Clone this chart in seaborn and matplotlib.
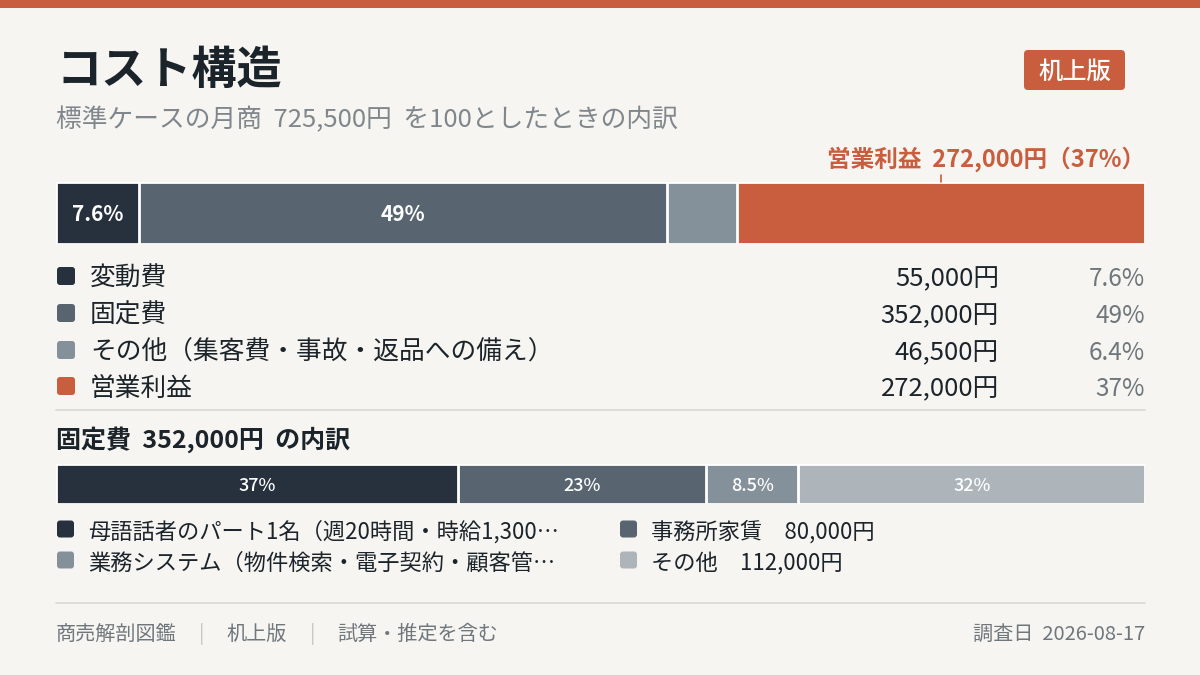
import numpy as np
import pandas as pd
import matplotlib
matplotlib.use('Agg')
import matplotlib.pyplot as plt
import matplotlib.transforms as mtransforms
from matplotlib.patches import FancyBboxPatch, Rectangle
import seaborn as sns

# Data
cost_names = ['変動費', '固定費', 'その他（集客費・事故・返品への備え）', '営業利益']
cost_values = [55000, 352000, 46500, 272000]
cost_bar_label = [True, True, False, False]

fixed_names = ['母語話者のパート1名（週20時間・時給1,300…', '事務所家賃', '業務システム（物件検索・電子契約・顧客管…', 'その他']
fixed_values = [130000, 80000, 30000, 112000]
fixed_show_value = [False, True, False, True]

title = 'コスト構造'
subtitle = '標準ケースの月商  725,500円  を100としたときの内訳'
badge = '机上版'
footer_left = ['商売解剖図鑑', '机上版', '試算・推定を含む']
footer_right = '調査日  2026-08-17'

# Colours
BG = '#f6f5f1'
ORANGE = '#c95e3e'
cost_colors = ['#26313d', '#586570', '#84919a', ORANGE]
fixed_colors = ['#26313d', '#586570', '#84919a', '#adb4ba']
INK = '#1c242b'
GREY = '#6f777d'
RULE = '#d9d8d4'

sns.set_theme(style='white')
plt.rcParams['font.family'] = ['Noto Sans CJK JP', 'DejaVu Sans']
plt.rcParams['axes.facecolor'] = BG

DY = 3  # Noto CJK sits a little high with va='center'


def pct(v, total):
    p = v / total * 100
    return f'{p:.1f}%' if p < 10 else f'{p:.0f}%'


W, H = 1200, 675
fig = plt.figure(figsize=(12, 6.75), dpi=100, facecolor=BG)

# pixel-coordinate canvas for text and decorations
bg = fig.add_axes([0, 0, 1, 1])
bg.set_xlim(0, W)
bg.set_ylim(H, 0)
bg.axis('off')
bg.set_facecolor(BG)
bg.add_patch(Rectangle((0, 0), W, 8, color=ORANGE, lw=0))

bg.text(56, 68 + DY, title, fontsize=32.5, fontweight='bold', color=INK, va='center')
bg.text(56, 117 + DY, subtitle, fontsize=18.5, color='#80878c', va='center')

bg.add_patch(FancyBboxPatch((1024, 50), 101, 40, boxstyle='round,pad=0,rounding_size=4',
                            color=ORANGE, lw=0))
bg.text(1074.5, 70 + 2, badge, fontsize=17.5, color='white', ha='center', va='center', fontweight='medium')


def stacked_bar(names, values, colors, rect):
    left, top, width, height = rect
    ax = fig.add_axes([left / W, 1 - (top + height) / H, width / W, height / H])
    df = pd.DataFrame({'seg': names, 'cum': np.cumsum(values), 'bar': 'all'})
    sns.barplot(data=df, x='cum', y='bar', hue='seg', hue_order=names[::-1],
                palette=dict(zip(names, colors)), dodge=False, width=1, saturation=1,
                errorbar=None, edgecolor='white', linewidth=2, legend=False,
                orient='h', ax=ax)
    ax.set_xlim(0, sum(values))
    ax.set_ylim(0.5, -0.5)
    ax.axis('off')
    return ax, df


total = sum(cost_values)
ax1, df1 = stacked_bar(cost_names, cost_values, cost_colors, (56, 182, 1089, 62))
for i, v in enumerate(cost_values):
    if cost_bar_label[i]:
        ax1.text(df1['cum'][i] - v / 2, 0.03, pct(v, total), color='white', fontsize=15,
                 fontweight='bold', ha='center', va='center')

# callout for operating profit
mid = df1['cum'][3] - cost_values[3] / 2
tr = mtransforms.blended_transform_factory(ax1.transData, ax1.transAxes)
ax1.plot([mid, mid], [1.0, 1.12], color=ORANGE, lw=1.2, transform=tr, clip_on=False)
bg.text(1145, 157 + 2, f'{cost_names[3]}  {cost_values[3]:,}円（{pct(cost_values[3], total)}）',
        fontsize=17, color=ORANGE, ha='right', va='center', fontweight='bold')

# legend rows
row_y = [276, 313, 350, 386]
for i, (n, v) in enumerate(zip(cost_names, cost_values)):
    y = row_y[i]
    bg.add_patch(FancyBboxPatch((57, y - 9), 18, 18, boxstyle='round,pad=0,rounding_size=3',
                                color=cost_colors[i], lw=0))
    bg.text(90, y + DY, n, fontsize=18.5, color=INK, va='center')
    bg.text(999, y + DY, f'{v:,}円', fontsize=18.5, color=INK, va='center', ha='right')
    bg.text(1145, y + DY, pct(v, total), fontsize=17.5, color=GREY, va='center', ha='right')

bg.plot([56, 1145], [410, 410], color=RULE, lw=1.2)

fixed_total = sum(fixed_values)
bg.text(56, 437 + DY, f'{cost_names[1]}  {fixed_total:,}円  の内訳', fontsize=18,
        fontweight='bold', color=INK, va='center')

ax2, df2 = stacked_bar(fixed_names, fixed_values, fixed_colors, (56, 464, 1089, 40))
for i, v in enumerate(fixed_values):
    ax2.text(df2['cum'][i] - v / 2, 0.04, pct(v, fixed_total), color='white', fontsize=13,
             fontweight='medium', ha='center', va='center')

# two-column legend
col_x = [57, 620]
sub_y = [529, 560]
for i, (n, v) in enumerate(zip(fixed_names, fixed_values)):
    x = col_x[i % 2]
    y = sub_y[i // 2]
    bg.add_patch(FancyBboxPatch((x, y - 8.5), 17, 17, boxstyle='round,pad=0,rounding_size=3',
                                color=fixed_colors[i], lw=0))
    label = f'{n}　{v:,}円' if fixed_show_value[i] else n
    bg.text(x + 31, y + DY, label, fontsize=16, color=INK, va='center')

bg.plot([56, 1145], [603, 603], color=RULE, lw=1.2)

# footer
fx = 56
for j, part in enumerate(footer_left):
    t = bg.text(fx, 632 + 2, part, fontsize=14.5, color=GREY, va='center')
    fig.canvas.draw()
    bb = t.get_window_extent()
    fx = bb.x1 + 25
    if j < len(footer_left) - 1:
        bg.text(fx, 632 + 2, '|', fontsize=14.5, color='#c3c3c0', va='center', ha='center')
        fx += 25
bg.text(1145, 632 + 2, footer_right, fontsize=14.5, color=GREY, va='center', ha='right')

fig.savefig('out.png', dpi=100, facecolor=BG)
